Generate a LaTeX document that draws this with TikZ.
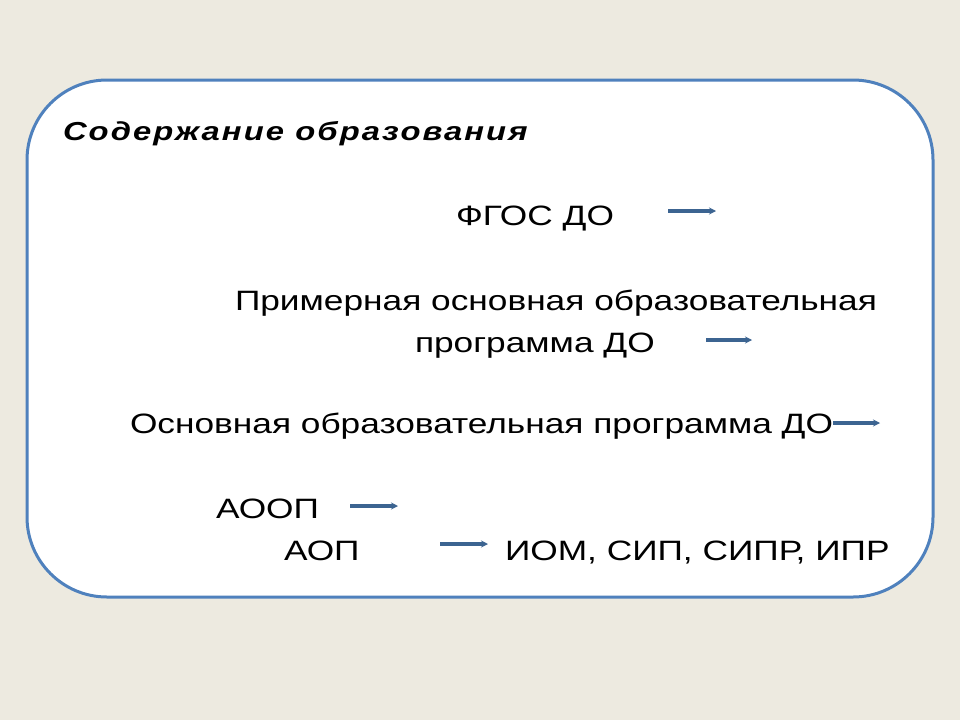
\documentclass[tikz,border=0pt]{standalone}
\usepackage{fontspec}
\setmainfont{Liberation Sans}[FakeStretch=1.26]
\usetikzlibrary{arrows.meta}
\definecolor{bgBeige}{HTML}{EDEAE0}
\definecolor{frameBlue}{HTML}{4F81BD}
\definecolor{arrowBlue}{HTML}{3C6491}
\tikzset{
    every node/.style={inner sep=0pt, outer sep=0pt}, % text sits on its baseline
    >={Stealth[length=7pt,width=7pt]}, % small head, as in the slide
}
\begin{document}
\begin{tikzpicture}[
                        x=1pt, y=-1pt,
                        styleText/.style={anchor=base west, font=\fontsize{28}{34}\selectfont},
                        styleArrow/.style={->, draw=arrowBlue, line width=4pt},
                    ]
                    \fill[bgBeige] (0,0) rectangle (960,720);
                    \useasboundingbox (0,0) rectangle (960,720);
                    \draw[frameBlue, line width=3pt, fill=white, rounded corners=80pt] (27,80) rectangle (933,597);

                    \node[anchor=base west, font=\fontsize{26}{30}\selectfont\bfseries\itshape\addfontfeatures{LetterSpace=8}] (title) at (63,140) {Содержание образования};

                    \node[styleText] (fgos) at (456,225) {ФГОС ДО};
                    \node[styleText] (poop1) at (235,310) {Примерная основная образовательная};
                    \node[styleText] (poop2) at (415,352) {программа ДО};
                    \node[styleText] (oop) at (130,433) {Основная образовательная программа ДО};
                    \node[styleText] (aoop) at (216,518) {АООП};
                    \node[styleText] (aop) at (284,560) {АОП};
                    \node[styleText] (iom) at (505,560) {ИОМ, СИП, СИПР, ИПР};

                    \coordinate (a1s) at (668,211);
                    \coordinate (a1e) at (716,211);
                    \coordinate (a2s) at (706,340);
                    \coordinate (a2e) at (752,340);
                    \coordinate (a3s) at (833,423);
                    \coordinate (a3e) at (880,423);
                    \coordinate (a4s) at (350,506);
                    \coordinate (a4e) at (398,506);
                    \coordinate (a5s) at (440,544);

                    \draw[styleArrow] (a1s) -- (a1e);
                    \draw[styleArrow] (a2s) -- (a2e);
                    \draw[styleArrow] (a3s) -- (a3e);
                    \draw[styleArrow] (a4s) -- (a4e);
                    \draw[styleArrow, shorten >=17pt] (a5s) -- (a5s -| iom.west);
                \end{tikzpicture}
\end{document}
